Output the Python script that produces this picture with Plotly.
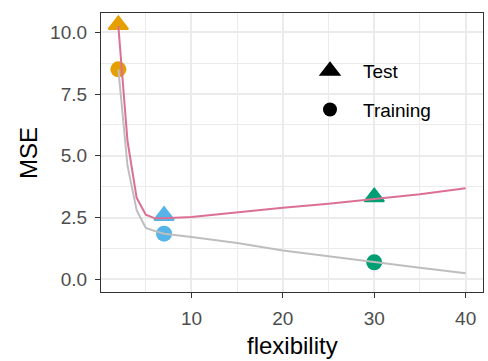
import plotly.graph_objects as go

# Error curves over model flexibility
flexibility = [2, 3, 4, 5, 6, 7, 10, 15, 20, 25, 30, 35, 40]
test_mse = [10.25, 5.6, 3.3, 2.62, 2.47, 2.47, 2.53, 2.72, 2.9, 3.06, 3.24, 3.45, 3.69]
train_mse = [8.5, 4.6, 2.8, 2.08, 1.96, 1.85, 1.72, 1.47, 1.17, 0.93, 0.70, 0.47, 0.25]

# Highlighted fits
point_flex = [2, 7, 30]
point_test = [10.3, 2.58, 3.33]
point_train = [8.5, 1.85, 0.69]
point_colors = ["#E69F00", "#56B4E9", "#009E73"]

x_ticks = [10, 20, 30, 40]
y_ticks = [0.0, 2.5, 5.0, 7.5, 10.0]
y_tick_text = ["0.0", "2.5", "5.0", "7.5", "10.0"]

FONT = "Liberation Sans, Arial, Helvetica, sans-serif"

fig = go.Figure()

# coloured points (drawn beneath the curves)
fig.add_trace(go.Scatter(
    x=point_flex, y=point_test, mode="markers", showlegend=False, hoverinfo="skip",
    marker=dict(symbol="triangle-up", size=17, color=point_colors,
                line=dict(color=point_colors, width=2)),
))
fig.add_trace(go.Scatter(
    x=point_flex, y=point_train, mode="markers", showlegend=False, hoverinfo="skip",
    marker=dict(symbol="circle", size=16, color=point_colors, line=dict(width=0)),
))

# curves
fig.add_trace(go.Scatter(
    x=flexibility, y=train_mse, mode="lines", showlegend=False,
    line=dict(color="#BEBEBE", width=2),
))
fig.add_trace(go.Scatter(
    x=flexibility, y=test_mse, mode="lines", showlegend=False,
    line=dict(color="#DB7093", width=2),
))

# legend keys
fig.add_trace(go.Scatter(
    x=[None], y=[None], mode="markers", name="Test", legendgroup="test",
    marker=dict(symbol="triangle-up", size=16, color="black", line=dict(color="black", width=2)),
))
fig.add_trace(go.Scatter(
    x=[None], y=[None], mode="markers", name="Training", legendgroup="train",
    marker=dict(symbol="circle", size=14, color="black", line=dict(width=0)),
))

axis_common = dict(
    showline=True, linecolor="#333333", linewidth=1.3, mirror=True,
    ticks="outside", ticklen=5, tickwidth=1.3, tickcolor="#333333",
    showgrid=True, gridcolor="#EBEBEB", gridwidth=2,
    tickfont=dict(family=FONT, size=19, color="#4D4D4D"),
    zeroline=False,
)

fig.update_xaxes(
    range=[0.1, 41.9], tickvals=x_ticks,
    minor=dict(dtick=5, tick0=0, showgrid=True, gridcolor="#EBEBEB", gridwidth=1, ticks=""),
    ticklabelstandoff=4,
    **axis_common,
)
fig.update_yaxes(
    range=[-0.51, 10.78], tickvals=y_ticks, ticktext=y_tick_text,
    minor=dict(dtick=1.25, tick0=0, showgrid=True, gridcolor="#EBEBEB", gridwidth=1, ticks=""),
    ticklabelstandoff=4,
    **axis_common,
)

# white key box over the grid
fig.add_shape(type="rect", xref="paper", yref="paper",
              x0=(298 - 101) / 382, x1=(446 - 101) / 382,
              y0=(292 - 142) / 279, y1=(292 - 26) / 279,
              fillcolor="white", line=dict(width=0), layer="between")

fig.update_layout(
    width=488, height=361,
    margin=dict(l=101, r=5, t=13, b=69),
    paper_bgcolor="white", plot_bgcolor="white",
    font=dict(family=FONT, color="black"),
    legend=dict(
        x=(297 - 101) / 382, y=(292 - 52) / 279, xanchor="left", yanchor="top",
        bgcolor="rgba(0,0,0,0)", borderwidth=0,
        font=dict(family=FONT, size=19, color="black"),
        itemwidth=56, tracegroupgap=11,
    ),
    annotations=[
        dict(text="flexibility", xref="paper", yref="paper", x=0.5, y=-0.19,
             xanchor="center", yanchor="middle", showarrow=False,
             font=dict(family=FONT, size=24, color="black")),
        dict(text="MSE", xref="paper", yref="paper", x=-0.19, y=0.5,
             xanchor="center", yanchor="middle", showarrow=False, textangle=-90,
             font=dict(family=FONT, size=24, color="black")),
    ],
)

fig.write_html("out.html")
